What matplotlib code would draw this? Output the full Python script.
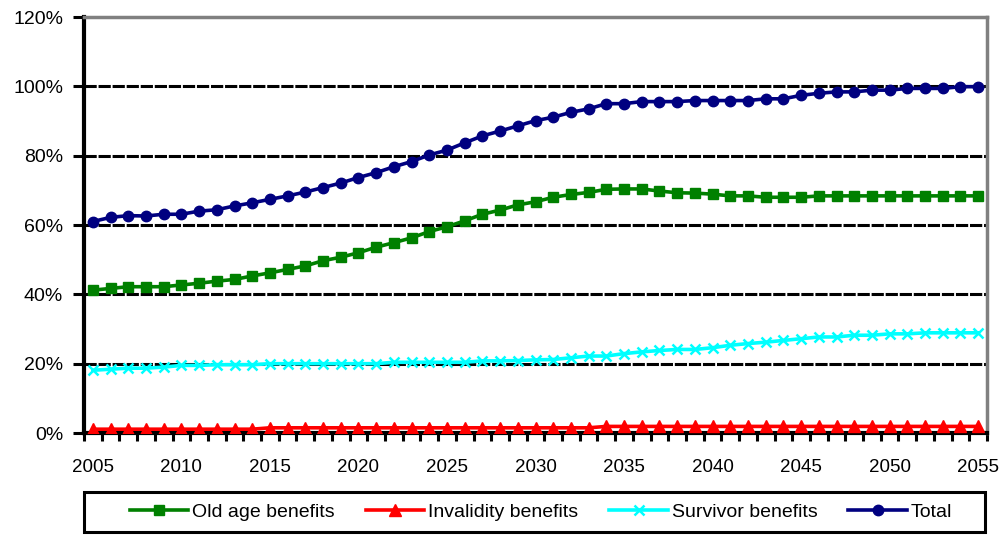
import matplotlib
matplotlib.use("Agg")
import matplotlib.pyplot as plt
from matplotlib.patches import Rectangle

plt.rcParams["font.family"] = ["Liberation Sans", "DejaVu Sans"]

# benefit expenditure as % of 2055 total
years = list(range(2005, 2056))

old_age = [41.2, 41.7, 42.2, 42.2, 42.2, 42.7, 43.2, 43.8, 44.3, 45.3,
           46.2, 47.2, 48.2, 49.7, 50.7, 52.0, 53.6, 54.9, 56.3, 58.1,
           59.5, 61.2, 63.1, 64.3, 65.8, 66.7, 68.0, 68.8, 69.4, 70.3,
           70.4, 70.4, 69.8, 69.3, 69.2, 68.9, 68.4, 68.4, 68.0, 68.0,
           68.0, 68.4, 68.4, 68.4, 68.4, 68.4, 68.4, 68.4, 68.4, 68.4,
           68.4]

invalidity = [1.1, 1.1, 1.1, 1.1, 1.1, 1.1, 1.1, 1.1, 1.1, 1.1,
              1.5, 1.5, 1.5, 1.5, 1.5, 1.5, 1.5, 1.5, 1.5, 1.5,
              1.5, 1.5, 1.5, 1.5, 1.5, 1.5, 1.5, 1.5, 1.5, 1.9,
              1.9, 1.9, 1.9, 1.9, 1.9, 1.9, 1.9, 1.9, 1.9, 1.9,
              1.9, 1.9, 1.9, 1.9, 1.9, 1.9, 1.9, 1.9, 1.9, 1.9,
              1.9]

survivor = [18.1, 18.4, 18.7, 18.7, 19.0, 19.5, 19.5, 19.7, 19.7, 19.7,
            20.0, 20.0, 20.0, 20.0, 20.0, 20.0, 20.0, 20.4, 20.4, 20.4,
            20.4, 20.4, 20.8, 20.8, 20.9, 21.1, 21.2, 21.7, 22.2, 22.2,
            22.9, 23.4, 23.8, 24.1, 24.1, 24.6, 25.3, 25.8, 26.2, 26.7,
            27.2, 27.7, 27.7, 28.2, 28.2, 28.6, 28.6, 28.9, 28.9, 28.9,
            28.9]

total = [61.0, 62.2, 62.7, 62.6, 63.1, 63.1, 64.0, 64.4, 65.5, 66.4,
         67.4, 68.4, 69.5, 70.8, 72.1, 73.7, 75.1, 76.8, 78.3, 80.2,
         81.6, 83.7, 85.7, 87.1, 88.6, 90.1, 91.1, 92.5, 93.5, 95.0,
         95.0, 95.6, 95.6, 95.6, 95.9, 95.9, 95.9, 95.9, 96.4, 96.4,
         97.4, 98.0, 98.4, 98.4, 98.9, 98.9, 99.4, 99.4, 99.4, 99.9,
         99.9]

fig = plt.figure(figsize=(10.02, 5.36), dpi=100)
ax = fig.add_axes([84 / 1002, 103 / 536, 903 / 1002, 416 / 536])

x = list(range(len(years)))

ax.plot(x, old_age, color="#008000", lw=2.6, marker="s", ms=7, label="Old age benefits", zorder=3)
ax.plot(x, invalidity, color="#FF0000", lw=2.6, marker="^", ms=8, label="Invalidity benefits", zorder=3)
ax.plot(x, survivor, color="#00FFFF", lw=2.6, marker="x", ms=6.5, mew=1.8, label="Survivor benefits", zorder=3)
ax.plot(x, total, color="#000080", lw=2.6, marker="o", ms=7.5, label="Total", zorder=4)

ax.set_xlim(-0.5, len(years) - 0.5)
ax.set_ylim(0, 120)

# gridlines
for g in [20, 40, 60, 80, 100]:
    ax.axhline(g, color="black", lw=2.2, ls=(0, (4, 0.6)), zorder=1)

ax.set_yticks([0, 20, 40, 60, 80, 100, 120])
ax.set_yticklabels([f"{v}%" for v in [0, 20, 40, 60, 80, 100, 120]], fontsize=14)
ax.tick_params(axis="y", direction="out", length=8, width=2.2, color="black", pad=7)

# year labels at category centres, tick marks at category boundaries
ax.set_xticks(x[::5])
ax.set_xticklabels([str(y) for y in years[::5]], fontsize=13.5)
ax.set_xticks([i - 0.5 for i in range(len(years) + 1)], minor=True)
ax.tick_params(axis="x", which="major", length=0, pad=19)
ax.tick_params(axis="x", which="minor", direction="out", length=6, width=2.2, color="black")

for s in ["left", "bottom"]:
    ax.spines[s].set_linewidth(3)
    ax.spines[s].set_color("black")
for s in ["top", "right"]:
    ax.spines[s].set_linewidth(2.5)
    ax.spines[s].set_color("#808080")

leg = fig.legend(loc="center", bbox_to_anchor=(541 / 1002, 24 / 536), ncol=4, frameon=False,
                 fontsize=14, handlelength=3.0, handletextpad=0.2, columnspacing=1.6)

fig.patches.append(Rectangle((84 / 1002, 4 / 536), 901 / 1002, 40 / 536, transform=fig.transFigure,
                             fill=False, edgecolor="black", lw=2.2))

fig.savefig("out.png", dpi=100)
